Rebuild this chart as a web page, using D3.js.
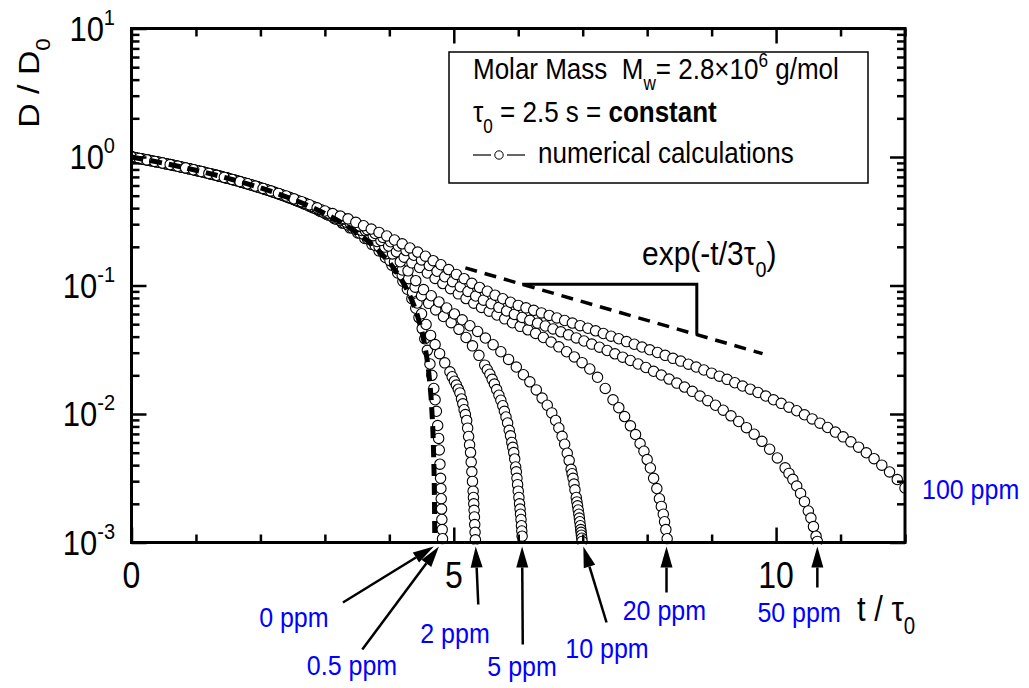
<!DOCTYPE html>
<html>
<head>
<meta charset="utf-8">
<script src="https://cdn.jsdelivr.net/npm/d3@7"></script>
<style>
  body { margin: 0; background: #fff; }
  svg text { font-family: "Liberation Sans", Arial, Helvetica, sans-serif; fill: #000; white-space: pre; }
</style>
</head>
<body>
<svg id="chart" width="1029" height="688"></svg>
<script>
"use strict";

// D/D0 against t/tau0 as [t/tau0, D/D0]
// 0 ppm is the thick dashed curve, the others are the open circles
const calc_0ppm = [[0,1],[0.5,0.894],[1,0.788],[1.5,0.682],[2,0.575],[2.5,0.469],[3,0.363],[3.4,0.278],[3.8,0.193],[4.1,0.1295],[4.3,0.0871],[4.45,0.0552],[4.55,0.034],[4.62,0.0191],[4.66,0.0106],[4.685,0.00531],[4.7,0.00213],[4.705,0.00107]];

const calc_05ppm = [[0,1],[0.03,0.994],[0.15,0.968],[0.27,0.943],[0.39,0.917],[0.51,0.892],[0.63,0.866],[0.75,0.841],[0.87,0.815],[0.99,0.79],[1.11,0.764],[1.23,0.739],[1.35,0.713],[1.47,0.688],[1.59,0.662],[1.71,0.637],[1.83,0.611],[1.95,0.586],[2.07,0.561],[2.19,0.535],[2.31,0.51],[2.43,0.484],[2.55,0.459],[2.67,0.433],[2.79,0.408],[2.91,0.382],
  [3.03,0.357],[3.15,0.331],[3.27,0.306],[3.39,0.281],[3.51,0.256],[3.62,0.232],[3.73,0.209],[3.84,0.186],[3.94,0.165],[4.04,0.144],[4.13,0.125],[4.21,0.108],[4.28,0.0935],[4.35,0.079],[4.41,0.0665],[4.46,0.0563],[4.51,0.0462],[4.55,0.0385],[4.59,0.0313],[4.63,0.0245],[4.66,0.02],[4.69,0.0158],[4.71,0.0129],[4.73,0.0105],[4.75,0.00813],[4.765,0.00646],[4.775,0.00525],[4.785,0.00407],[4.795,0.00316],[4.8,0.00263],[4.805,0.00219],[4.81,0.00182],[4.815,0.00151],[4.82,0.00126],[4.825,0.00107]];

const calc_2ppm = [[0,1],[0.06,0.987],[0.18,0.962],[0.3,0.936],[0.42,0.911],[0.54,0.885],[0.66,0.86],[0.78,0.834],[0.9,0.809],[1.02,0.783],[1.14,0.758],[1.26,0.732],[1.38,0.707],[1.5,0.682],[1.62,0.656],[1.74,0.631],[1.86,0.605],[1.98,0.58],[2.1,0.554],[2.22,0.529],[2.34,0.504],[2.46,0.478],[2.58,0.453],[2.7,0.427],[2.82,0.402],[2.94,0.376],
  [3.06,0.352],[3.18,0.328],[3.3,0.305],[3.42,0.28],[3.54,0.256],[3.66,0.231],[3.78,0.205],[3.9,0.182],[4.01,0.156],[4.11,0.136],[4.2,0.12],[4.28,0.104],[4.36,0.0887],[4.43,0.0731],[4.5,0.0603],[4.57,0.0497],[4.64,0.0409],[4.71,0.0347],[4.78,0.0295],[4.86,0.025],[4.94,0.0213],[4.975,0.0195],[5.01,0.018],[5.04,0.0168],[5.07,0.0156],[5.095,0.0146],[5.12,0.0131],[5.14,0.012],[5.16,0.0108],[5.18,0.00989],[5.2,0.00891],[5.215,0.00776],[5.23,0.00668],[5.245,0.00575],[5.26,0.00501],[5.27,0.00422],[5.28,0.00355],[5.29,0.00299],[5.3,0.00251],[5.305,0.00224],[5.31,0.002],[5.315,0.00178],[5.32,0.00158],[5.325,0.00138],[5.33,0.0012],[5.335,0.00105]];

const calc_5ppm = [[0,1],[0.12,0.975],[0.24,0.949],[0.36,0.924],[0.48,0.898],[0.6,0.873],[0.72,0.847],[0.84,0.822],[0.96,0.796],[1.08,0.771],[1.2,0.745],[1.32,0.72],[1.44,0.694],[1.56,0.669],[1.68,0.643],[1.8,0.618],[1.92,0.593],[2.04,0.567],[2.16,0.542],[2.28,0.517],[2.4,0.491],[2.52,0.466],[2.64,0.441],[2.76,0.415],[2.88,0.39],
  [3,0.366],[3.12,0.342],[3.24,0.32],[3.36,0.296],[3.48,0.273],[3.6,0.251],[3.72,0.225],[3.84,0.201],[3.96,0.177],[4.08,0.153],[4.2,0.132],[4.3,0.113],[4.4,0.097],[4.5,0.0832],[4.61,0.0726],[4.72,0.0646],[4.84,0.0574],[4.96,0.0514],[5.08,0.0456],[5.19,0.0394],[5.29,0.0339],[5.39,0.0286],[5.48,0.024],[5.52,0.0221],[5.56,0.0204],[5.595,0.0186],[5.63,0.0171],[5.665,0.0155],[5.7,0.014],[5.73,0.0128],[5.76,0.0116],[5.785,0.0105],[5.81,0.00948],[5.835,0.00851],[5.86,0.00746],[5.88,0.00676],[5.9,0.006],[5.915,0.0055],[5.93,0.00501],[5.945,0.00447],[5.96,0.00387],[5.97,0.00355],[5.98,0.00316],[5.99,0.00282],[6,0.00251],[6.01,0.00224],[6.02,0.002],[6.028,0.00182],[6.035,0.00166],[6.043,0.00151],[6.05,0.00135],[6.055,0.00123],[6.06,0.00112]];

const calc_10ppm = [[0,1],[0.09,0.981],[0.21,0.955],[0.33,0.93],[0.45,0.905],[0.57,0.879],[0.69,0.854],[0.81,0.828],[0.93,0.803],[1.05,0.777],[1.17,0.752],[1.29,0.726],[1.41,0.701],[1.53,0.675],[1.65,0.65],[1.77,0.624],[1.89,0.599],[2.01,0.574],[2.13,0.549],[2.25,0.523],[2.37,0.498],[2.49,0.473],[2.61,0.448],[2.73,0.423],[2.85,0.398],[2.97,0.373],
  [3.09,0.352],[3.21,0.331],[3.33,0.311],[3.45,0.29],[3.57,0.268],[3.69,0.244],[3.81,0.22],[3.93,0.199],[4.05,0.176],[4.17,0.153],[4.29,0.13],[4.41,0.109],[4.53,0.0929],[4.65,0.0832],[4.77,0.0745],[4.89,0.0668],[5.01,0.0601],[5.13,0.0541],[5.25,0.0486],[5.37,0.0439],[5.49,0.039],[5.61,0.0346],[5.73,0.0305],[5.85,0.0266],[5.97,0.0232],[6.08,0.0202],[6.18,0.0178],[6.28,0.0154],[6.37,0.0133],[6.45,0.0117],[6.52,0.0102],[6.58,0.00891],[6.63,0.00778],[6.68,0.0067],[6.72,0.00582],[6.76,0.00495],[6.79,0.00434],[6.82,0.00371],[6.835,0.00343],[6.85,0.00316],[6.865,0.00285],[6.88,0.00257],[6.9,0.00224],[6.91,0.00207],[6.92,0.00193],[6.93,0.00179],[6.94,0.00166],[6.948,0.00155],[6.955,0.00145],[6.963,0.00135],[6.97,0.00126],[6.975,0.0012],[6.98,0.00114],[6.986,0.00108],[6.99,0.00102]];

const calc_20ppm = [[0,1],[0.03,0.994],[0.15,0.968],[0.27,0.943],[0.39,0.917],[0.51,0.892],[0.63,0.866],[0.75,0.841],[0.87,0.815],[0.99,0.79],[1.11,0.764],[1.23,0.739],[1.35,0.713],[1.47,0.688],[1.59,0.662],[1.71,0.637],[1.83,0.612],[1.95,0.587],[2.07,0.562],[2.19,0.537],[2.31,0.512],[2.43,0.488],[2.55,0.463],[2.67,0.438],[2.79,0.413],[2.91,0.389],
  [3.03,0.366],[3.15,0.347],[3.27,0.328],[3.39,0.308],[3.51,0.287],[3.63,0.267],[3.75,0.244],[3.87,0.224],[3.99,0.203],[4.11,0.183],[4.23,0.166],[4.35,0.15],[4.47,0.138],[4.59,0.125],[4.71,0.1135],[4.83,0.1035],[4.95,0.0944],[5.07,0.0861],[5.19,0.0791],[5.31,0.0728],[5.43,0.0675],[5.55,0.0631],[5.67,0.0589],[5.79,0.055],[5.91,0.0513],[6.03,0.0481],[6.15,0.0452],[6.27,0.0424],[6.39,0.0394],[6.51,0.0363],[6.63,0.0333],[6.75,0.0305],[6.87,0.0278],[6.99,0.0251],[7.11,0.0224],[7.23,0.0193],[7.35,0.0158],[7.47,0.0129],[7.56,0.0112],[7.65,0.00955],[7.74,0.00809],[7.82,0.00692],[7.89,0.00589],[7.95,0.00513],[8,0.00442],[8.05,0.0038],[8.1,0.00316],[8.15,0.00263],[8.19,0.00219],[8.22,0.00191],[8.25,0.00166],[8.27,0.00145],[8.29,0.00126],[8.31,0.00107]];

const calc_50ppm = [[0,1],[0.06,0.987],[0.18,0.962],[0.3,0.936],[0.42,0.911],[0.54,0.885],[0.66,0.86],[0.78,0.834],[0.9,0.809],[1.02,0.783],[1.14,0.758],[1.26,0.733],[1.38,0.707],[1.5,0.682],[1.62,0.656],[1.74,0.631],[1.86,0.606],[1.98,0.581],[2.1,0.556],[2.22,0.531],[2.34,0.507],[2.46,0.483],[2.58,0.459],[2.7,0.436],[2.82,0.412],[2.94,0.389],
  [3.06,0.366],[3.18,0.348],[3.3,0.331],[3.42,0.31],[3.54,0.291],[3.66,0.272],[3.78,0.254],[3.9,0.237],[4.02,0.219],[4.14,0.203],[4.26,0.187],[4.38,0.172],[4.5,0.158],[4.62,0.143],[4.74,0.129],[4.86,0.117],[4.98,0.107],[5.1,0.0977],[5.22,0.0899],[5.34,0.0828],[5.46,0.0769],[5.58,0.0721],[5.7,0.0676],[5.82,0.0634],[5.94,0.0596],
  [6.06,0.0564],[6.18,0.0536],[6.3,0.0509],[6.42,0.0484],[6.54,0.0459],[6.66,0.0436],[6.78,0.0413],[6.9,0.0391],[7.02,0.037],[7.14,0.035],[7.26,0.0331],[7.38,0.0312],[7.5,0.0294],[7.62,0.0277],[7.74,0.0261],[7.86,0.0245],[7.98,0.023],[8.1,0.0215],[8.22,0.0201],[8.34,0.0187],[8.46,0.0174],[8.58,0.0162],[8.7,0.015],[8.82,0.0138],[8.94,0.0127],[9.06,0.0117],[9.18,0.0107],[9.3,0.00968],[9.42,0.00874],[9.54,0.00783],[9.66,0.00696],[9.78,0.00613],[9.9,0.00532],[10.02,0.00455],[10.14,0.00381],[10.2,0.00345],[10.26,0.0031],[10.32,0.00275],[10.38,0.00241],[10.44,0.00208],[10.5,0.00176],[10.54,0.00155],[10.58,0.00133],[10.62,0.00112],[10.64,0.00102]];

const calc_100ppm = [[0,1],[0.12,0.975],[0.24,0.949],[0.36,0.924],[0.48,0.898],[0.6,0.873],[0.72,0.847],[0.84,0.822],[0.96,0.796],[1.08,0.771],[1.2,0.745],[1.32,0.72],[1.44,0.694],[1.56,0.669],[1.68,0.644],[1.8,0.619],[1.92,0.594],[2.04,0.569],[2.16,0.545],[2.28,0.521],[2.4,0.497],[2.52,0.473],[2.64,0.449],[2.76,0.425],[2.88,0.402],
  [3,0.38],[3.12,0.363],[3.24,0.347],[3.36,0.33],[3.48,0.31],[3.6,0.292],[3.72,0.275],[3.84,0.259],[3.96,0.243],[4.08,0.226],[4.2,0.211],[4.32,0.196],[4.44,0.182],[4.56,0.169],[4.68,0.156],[4.8,0.145],[4.92,0.133],[5.04,0.122],[5.16,0.113],[5.28,0.104],[5.4,0.0966],[5.52,0.0902],[5.64,0.0841],[5.76,0.0789],[5.88,0.0741],[6,0.07],
  [6.12,0.067],[6.24,0.0641],[6.36,0.0612],[6.48,0.0585],[6.6,0.0559],[6.72,0.0534],[6.84,0.051],[6.96,0.0487],[7.08,0.0465],[7.2,0.0444],[7.32,0.0423],[7.44,0.0403],[7.56,0.0385],[7.68,0.0366],[7.8,0.0349],[7.92,0.0332],[8.04,0.0316],[8.16,0.0301],[8.28,0.0286],[8.4,0.0271],[8.52,0.0258],[8.64,0.0244],[8.76,0.0232],[8.88,0.022],[9,0.0208],[9.12,0.0197],[9.24,0.0186],[9.36,0.0175],[9.48,0.0165],[9.6,0.0156],[9.72,0.0147],[9.84,0.0138],[9.96,0.0129],[10.08,0.0121],[10.2,0.0113],[10.32,0.0106],[10.44,0.00986],[10.56,0.00916],[10.68,0.00849],[10.8,0.00785],[10.92,0.00723],[11.04,0.00664],[11.16,0.00607],[11.28,0.00552],[11.4,0.00499],[11.52,0.00449],[11.64,0.004],[11.76,0.00354],[11.88,0.00309],[12,0.00266]];

const circle_series = [calc_05ppm, calc_2ppm, calc_5ppm, calc_10ppm, calc_20ppm, calc_50ppm, calc_100ppm];

// axes
const x_ticks_major = [0, 5, 10];
const x_tick_labels = ["0", "5", "10"];
const y_ticks_major = [1e-3, 1e-2, 1e-1, 1, 10];
const y_tick_exps = ["-3", "-2", "-1", "0", "1"];

// slope guide exp(-t/3 tau0): dashed line and its step
const guide_line = [[5.18, 0.137], [9.79, 0.0295]];
const guide_step = [[6.06, 0.1022], [8.77, 0.1022], [8.77, 0.0414]];

// arrows under the t axis: tip t, tail t, tail drop (px), label t, label drop (px)
const arrow_labels = ["0 ppm", "0.5 ppm", "2 ppm", "5 ppm", "10 ppm", "20 ppm", "50 ppm"];
const arrow_tip_t = [4.69, 4.77, 5.34, 6.06, 7.01, 8.3, 10.64];
const arrow_tail_t = [3.28, 3.58, 5.38, 6.07, 7.37, 8.3, 10.64];
const arrow_tail_drop = [60, 107, 62, 102, 80, 50, 45];
const label_t = [1.98, 2.72, 4.48, 5.52, 6.73, 7.62, 9.71];
const label_drop = [84, 132, 100, 133, 115, 77, 79];

const text_stretch = 1.13;   // the lettering in the figure is drawn a bit tall

const chart_svg = d3.select("#chart");
const x_scale = d3.scaleLinear().domain([0, 12]).range([131.5, 905]);
const y_scale = d3.scaleLog().domain([1e-3, 10]).range([542.5, 28.5]);
const chart_left = x_scale.range()[0], chart_right = x_scale.range()[1];
const chart_top = y_scale.range()[1], chart_bottom = y_scale.range()[0];

chart_svg.append("rect").attr("width", 1029).attr("height", 688).attr("fill", "#fff");

chart_svg.append("clipPath").attr("id", "plot-area").append("rect")
  .attr("x", chart_left).attr("y", chart_top)
  .attr("width", chart_right - chart_left).attr("height", chart_bottom - chart_top + 2);

let plot = chart_svg.append("g").attr("clip-path", "url(#plot-area)");

for (let s of circle_series) {
  plot.append("g").selectAll("circle")
    .data(s)
    .enter().append("circle")
    .attr("cx", d => x_scale(d[0]))
    .attr("cy", d => y_scale(d[1]))
    .attr("r", 5.2)
    .attr("fill", "#fff")
    .attr("stroke", "#000")
    .attr("stroke-width", 1.1);
}

const line_gen = d3.line().x(d => x_scale(d[0])).y(d => y_scale(d[1]));

plot.append("path").datum(calc_0ppm)
  .attr("d", line_gen.curve(d3.curveMonotoneX))
  .attr("fill", "none").attr("stroke", "#000")
  .attr("stroke-width", 5).attr("stroke-dasharray", "12,7");

line_gen.curve(d3.curveLinear);
chart_svg.append("path").datum(guide_line)
  .attr("d", line_gen)
  .attr("fill", "none").attr("stroke", "#000")
  .attr("stroke-width", 3.5).attr("stroke-dasharray", "12,8");
chart_svg.append("path").datum(guide_step)
  .attr("d", line_gen)
  .attr("fill", "none").attr("stroke", "#000").attr("stroke-width", 3);

// frame
chart_svg.append("rect")
  .attr("x", chart_left).attr("y", chart_top)
  .attr("width", chart_right - chart_left).attr("height", chart_bottom - chart_top)
  .attr("fill", "none").attr("stroke", "#000").attr("stroke-width", 3);

// inward ticks on all four sides
const x_minor = x_scale.ticks(12).filter(v => !x_ticks_major.includes(v));
const y_minor = y_scale.ticks().filter(v => !y_ticks_major.some(m => Math.abs(v / m - 1) < 1e-6));

function add_ticks(axis, transform) {
  let g = chart_svg.append("g").attr("transform", transform).call(axis);
  g.select(".domain").remove();
  g.selectAll(".tick text").remove();
  g.selectAll(".tick line").attr("stroke", "#000").attr("stroke-width", 2.5);
}
add_ticks(d3.axisBottom(x_scale).tickValues(x_ticks_major).tickSize(-15), "translate(0," + chart_bottom + ")");
add_ticks(d3.axisBottom(x_scale).tickValues(x_minor).tickSize(-8), "translate(0," + chart_bottom + ")");
add_ticks(d3.axisTop(x_scale).tickValues(x_ticks_major).tickSize(-15), "translate(0," + chart_top + ")");
add_ticks(d3.axisTop(x_scale).tickValues(x_minor).tickSize(-8), "translate(0," + chart_top + ")");
add_ticks(d3.axisLeft(y_scale).tickValues(y_ticks_major).tickSize(-15), "translate(" + chart_left + ",0)");
add_ticks(d3.axisLeft(y_scale).tickValues(y_minor).tickSize(-8), "translate(" + chart_left + ",0)");
add_ticks(d3.axisRight(y_scale).tickValues(y_ticks_major).tickSize(-15), "translate(" + chart_right + ",0)");
add_ticks(d3.axisRight(y_scale).tickValues(y_minor).tickSize(-8), "translate(" + chart_right + ",0)");

// every label goes through here: anchor point plus the vertical stretch
function place_text(parent, x, y, size) {
  return parent.append("text")
    .attr("transform", "translate(" + x + "," + y + ") scale(1," + text_stretch + ")")
    .attr("font-size", size);
}

// text with sub/superscripts
function rich_text(parent, x, y, size, parts) {
  let t = place_text(parent, x, y, size);
  let shift = 0;
  for (let p of parts) {
    let sp = t.append("tspan").text(p.s);
    let target = p.sub ? size * 0.36 : (p.sup ? -size * 0.4 : 0);
    if (target !== shift) { sp.attr("dy", target - shift); shift = target; }
    if (p.sub || p.sup) sp.attr("font-size", size * 0.66);
    if (p.bold) sp.attr("font-weight", "bold");
  }
  return t;
}

// tick labels
x_ticks_major.forEach((v, i) => {
  place_text(chart_svg, x_scale(v), 588, 32).attr("text-anchor", "middle").text(x_tick_labels[i]);
});

y_ticks_major.forEach((v, i) => {
  let t = place_text(chart_svg, 115, y_scale(v) + 12, 31).attr("text-anchor", "end");
  t.append("tspan").text("10");
  t.append("tspan").attr("dy", -14).attr("font-size", 20).text(y_tick_exps[i]);
});

// axis titles (y title is rotated, so its stretch runs along the text)
let y_title = rich_text(chart_svg.append("g").attr("transform", "translate(39,83) rotate(-90)"), 0, 0, 30,
  [{s: "D / D"}, {s: "0", sub: true}]);
y_title.attr("text-anchor", "middle").attr("transform", "scale(" + text_stretch + ",1)");
rich_text(chart_svg, 857, 621, 31, [{s: "t / τ"}, {s: "0", sub: true}]);

// legend box
chart_svg.append("rect").attr("x", 449).attr("y", 52).attr("width", 419).attr("height", 131)
  .attr("fill", "#fff").attr("stroke", "#000").attr("stroke-width", 1.5);
rich_text(chart_svg, 473, 79, 26,
  [{s: "Molar Mass  M"}, {s: "w", sub: true}, {s: "= 2.8×10"}, {s: "6", sup: true}, {s: " g/mol"}]);
rich_text(chart_svg, 473, 122, 26,
  [{s: "τ"}, {s: "0", sub: true}, {s: " = 2.5 s = "}, {s: "constant", bold: true}]);
chart_svg.append("line").attr("x1", 473).attr("x2", 491).attr("y1", 155).attr("y2", 155)
  .attr("stroke", "#000").attr("stroke-width", 1.2);
chart_svg.append("line").attr("x1", 507).attr("x2", 525).attr("y1", 155).attr("y2", 155)
  .attr("stroke", "#000").attr("stroke-width", 1.2);
chart_svg.append("circle").attr("cx", 499).attr("cy", 155).attr("r", 4.2)
  .attr("fill", "#fff").attr("stroke", "#000").attr("stroke-width", 1);
place_text(chart_svg, 538, 163, 26).text("numerical calculations");

// slope label
rich_text(chart_svg, 642, 265, 30, [{s: "exp(-t/3τ"}, {s: "0", sub: true}, {s: ")"}]);

// arrows and concentration labels
const ann = chart_svg.append("g");
arrow_labels.forEach((lab, i) => {
  let x1 = x_scale(arrow_tail_t[i]), y1 = chart_bottom + arrow_tail_drop[i];
  let x2 = x_scale(arrow_tip_t[i]), y2 = chart_bottom + 4;
  let len = Math.hypot(x2 - x1, y2 - y1), ux = (x2 - x1) / len, uy = (y2 - y1) / len;
  let head = 21, half = 6;
  let bx = x2 - ux * head, by = y2 - uy * head;
  ann.append("line").attr("x1", x1).attr("y1", y1).attr("x2", bx).attr("y2", by)
    .attr("stroke", "#000").attr("stroke-width", 2.5);
  ann.append("path")
    .attr("d", "M" + x2 + "," + y2 + "L" + (bx - uy * half) + "," + (by + ux * half) +
      "L" + (bx + uy * half) + "," + (by - ux * half) + "Z")
    .attr("fill", "#000");
  place_text(ann, x_scale(label_t[i]), chart_bottom + label_drop[i], 25)
    .style("fill", "#0000ff").text(lab);
});
place_text(ann, 922, y_scale(0.0022) + 1, 25).style("fill", "#0000ff").text("100 ppm");
</script>
</body>
</html>
